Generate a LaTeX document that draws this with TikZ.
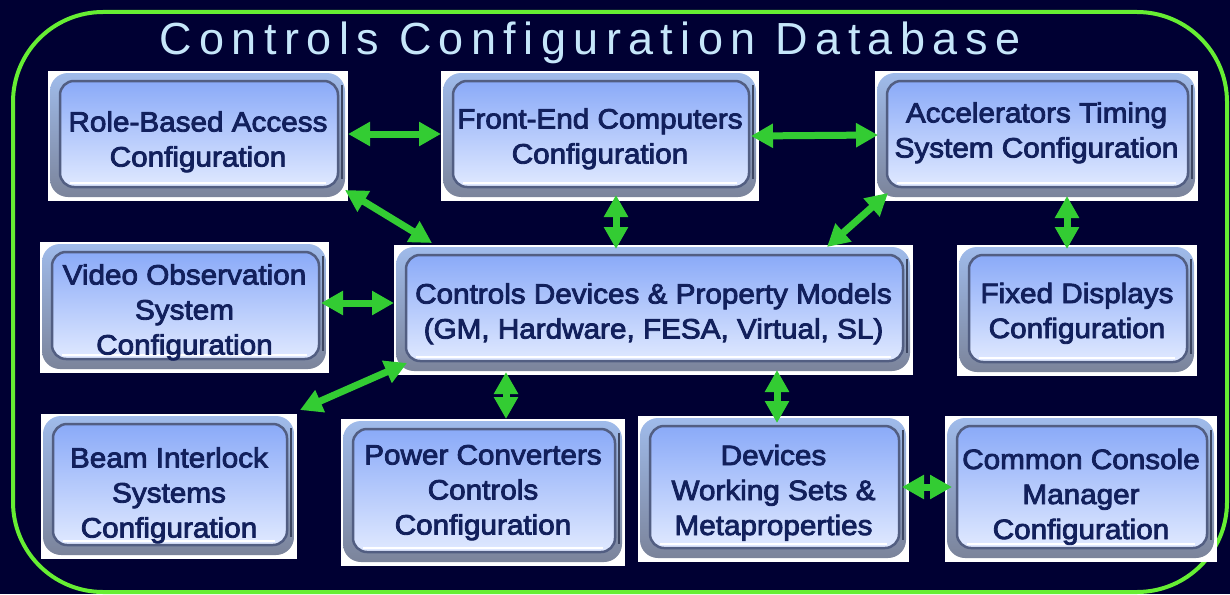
\documentclass[tikz,border=0pt]{standalone}
\usepackage{fontspec}
\setmainfont{Liberation Sans}
\newfontfamily\boxfont[FakeStretch=1.06,FakeBold=3]{Liberation Sans}
\newfontfamily\titlefont[LetterSpace=16.5]{Liberation Sans}
\usetikzlibrary{arrows.meta}

\definecolor{bgnavy}{RGB}{0,0,51}
\definecolor{framegreen}{RGB}{102,238,51}
\definecolor{linkgreen}{RGB}{51,204,51}
\definecolor{titleblue}{RGB}{198,230,250}
\definecolor{txtblue}{RGB}{18,32,92}
\definecolor{bevtop}{RGB}{160,188,236}
\definecolor{bevbot}{RGB}{122,130,152}
\definecolor{facetop}{RGB}{138,170,248}
\definecolor{facebot}{RGB}{224,233,255}
\definecolor{faceline}{RGB}{82,94,130}

% centred lines of a box, lowered by the optional amount
\newcommand\boxtext[2][4pt]{%
  \raisebox{-#1}[\height][\depth]{\begin{tabular}{@{}c@{}}#2\end{tabular}}}

\tikzset{
  cfgbox/.style={rectangle, fill=white, inner sep=0pt, outer sep=0pt,
    text=txtblue, font={\boxfont\fontsize{28}{35}\selectfont},
    path picture={
      % outer bevel ring
      \shade[top color=bevtop, bottom color=bevbot, rounded corners=18pt]
        ([shift={(2pt,-2pt)}]path picture bounding box.north west) rectangle
        ([shift={(-3pt,4pt)}]path picture bounding box.south east);
      % darker right edge of the bevel
      \draw[faceline!75!black, line width=2pt, rounded corners=16pt]
        ([shift={(-6pt,-14pt)}]path picture bounding box.north east) --
        ([shift={(-6pt,22pt)}]path picture bounding box.south east);
      % raised face
      \shadedraw[top color=facetop, bottom color=facebot, draw=faceline,
        line width=2.5pt, rounded corners=14pt]
        ([shift={(12pt,-10pt)}]path picture bounding box.north west) rectangle
        ([shift={(-10pt,14pt)}]path picture bounding box.south east);
      % highlight along the lower edge of the face
      \draw[white, line width=2pt]
        ([shift={(22pt,18pt)}]path picture bounding box.south west) --
        ([shift={(-22pt,18pt)}]path picture bounding box.south east);
    }},
  link/.style={draw=linkgreen, line width=7pt,
    {Triangle[width=23pt,length=22pt]}-{Triangle[width=23pt,length=22pt]}},
  frame/.style={draw=framegreen, line width=4pt, rounded corners=90pt},
  title/.style={text=titleblue, font={\titlefont\fontsize{45}{50}\selectfont},
    inner sep=0pt, anchor=base}
}

\begin{document}
\begin{tikzpicture}[x=1pt, y=-1pt]
  \useasboundingbox (0,0) rectangle (1230,594);
  \fill[bgnavy] (0,0) rectangle (1230,594);

  % enclosing frame and heading
  \draw[frame] (13,12) rectangle (1227,592);
  \node[title] (title) at (590,55) {Controls Configuration Database};

  % configuration areas
  \node[cfgbox, minimum width=300pt, minimum height=130pt] (rba) at (198,136)
    {\boxtext[6pt]{Role-Based Access\\Configuration}};
  \node[cfgbox, minimum width=318pt, minimum height=130pt] (fec) at (600,136)
    {\boxtext[3pt]{Front-End Computers\\Configuration}};
  \node[cfgbox, minimum width=323pt, minimum height=130pt] (ats) at (1036.5,136)
    {\boxtext[-3pt]{Accelerators Timing\\System Configuration}};
  \node[cfgbox, minimum width=289pt, minimum height=131pt] (vos) at (184.5,307.5)
    {\boxtext[5pt]{Video Observation\\System\\Configuration}};
  \node[cfgbox, minimum width=519pt, minimum height=130pt] (cdp) at (653.5,310)
    {\boxtext[4pt]{Controls Devices \& Property Models\\(GM, Hardware, FESA, Virtual, SL)}};
  \node[cfgbox, minimum width=240pt, minimum height=131pt] (fdc) at (1077,310.5)
    {\boxtext[3pt]{Fixed Displays\\Configuration}};
  \node[cfgbox, minimum width=256pt, minimum height=145pt] (bis) at (169,486.5)
    {\boxtext[9pt]{Beam Interlock\\Systems\\Configuration}};
  \node[cfgbox, minimum width=284pt, minimum height=147pt] (pcc) at (483,492.5)
    {\boxtext[0pt]{Power Converters\\Controls\\Configuration}};
  \node[cfgbox, minimum width=271pt, minimum height=146pt] (dws) at (773.5,489)
    {\boxtext[4pt]{Devices\\Working Sets \&\\Metaproperties}};
  \node[cfgbox, minimum width=272pt, minimum height=146pt] (ccm) at (1081,489)
    {\boxtext[8pt]{Common Console\\Manager\\Configuration}};

  % relations
  \draw[link] ([yshift=2pt]rba.east) -- ([yshift=2pt]fec.west);
  \draw[link] ([shift={(-8pt,0pt)}]fec.east) -- ([shift={(3pt,1pt)}]ats.west);
  \draw[link] ([shift={(-3pt,11pt)}]rba.south east) -- ([shift={(38pt,2pt)}]cdp.north west);
  \draw[link] ([shift={(16pt,6pt)}]fec.south) -- ([shift={(-37.5pt,-4pt)}]cdp.north);
  \draw[link] ([shift={(13pt,8pt)}]ats.south west) -- ([shift={(-86pt,-2pt)}]cdp.north east);
  \draw[link] ([shift={(30.5pt,5pt)}]ats.south) -- ([shift={(-10pt,-4pt)}]fdc.north);
  \draw[link] ([shift={(-8pt,4.5pt)}]vos.east) -- ([shift={(0pt,7pt)}]cdp.west);
  \draw[link] ([shift={(13pt,12pt)}]cdp.south west) -- ([shift={(3pt,4pt)}]bis.north east);
  \draw[link] ([shift={(-147.5pt,3pt)}]cdp.south) -- ([shift={(23pt,0pt)}]pcc.north);
  \draw[link] ([shift={(123.5pt,5pt)}]cdp.south) -- ([shift={(3.5pt,-7pt)}]dws.north);
  \draw[link] ([shift={(-7pt,2pt)}]dws.east) -- ([shift={(7pt,2pt)}]ccm.west);
\end{tikzpicture}
\end{document}
